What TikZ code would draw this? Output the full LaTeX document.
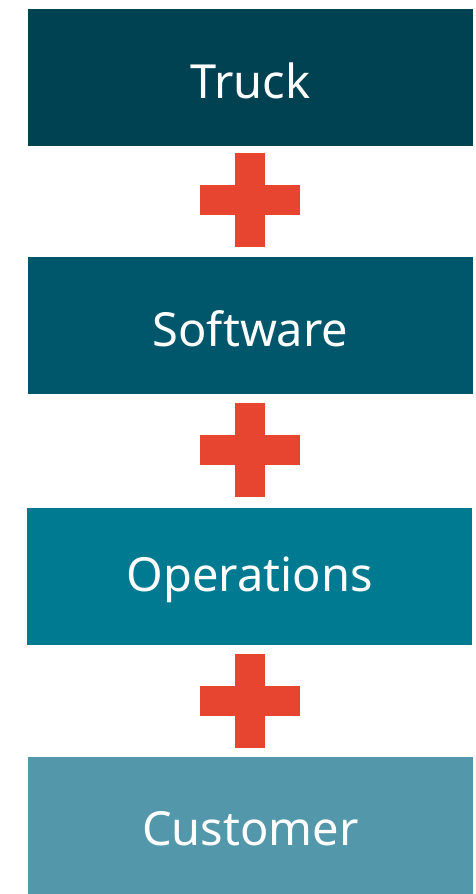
\documentclass[tikz,border=0pt]{standalone}
\usepackage{fontspec}
\setmainfont{Noto Sans}
\definecolor{cTruck}{HTML}{004152}
\definecolor{cSoft}{HTML}{00566B}
\definecolor{cOps}{HTML}{007A91}
\definecolor{cCust}{HTML}{5397AB}
\definecolor{cPlus}{HTML}{E84530}
\begin{document}
\begin{tikzpicture}[x=1pt,y=-1pt,
  blocklabel/.style={text=white,font=\fontsize{47}{50}\selectfont},
  plusbar/.style={fill=cPlus,draw=none}]
\useasboundingbox (0,0) rectangle (476,894);
\fill[cTruck] (28,9) rectangle (473,146);
\node[blocklabel] (truck) at (250.5,81) {Truck};
\fill[cSoft] (28,257) rectangle (473,394);
\node[blocklabel] (soft) at (250.5,329) {Software};
\fill[cOps] (27,508) rectangle (472,645);
\node[blocklabel] (ops) at (249.5,580) {Operations};
\fill[cCust] (28,757) rectangle (473,894);
\node[blocklabel] (cust) at (250.5,829) {Customer};
\foreach \cy in {200,450,701}{
  \fill[plusbar] (235,\cy-47) rectangle (265,\cy+47);
  \fill[plusbar] (200,\cy-15) rectangle (300,\cy+15);
}
\end{tikzpicture}
\end{document}
